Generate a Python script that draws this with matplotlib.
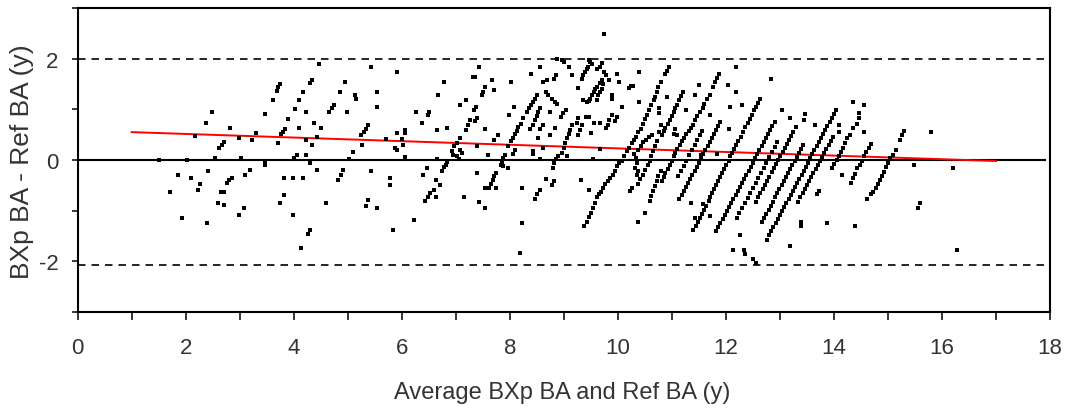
import numpy as np
import matplotlib
matplotlib.use("Agg")
import matplotlib.pyplot as plt

# (average of the two BA estimates, BXp BA - Ref BA)
pts_young = [
    (1.51, 0.00), (1.71, -0.64), (1.86, -0.29), (1.94, -1.15), (2.02, 0.00), (2.10, -0.35),
    (2.18, 0.48), (2.22, -0.60), (2.26, -0.48), (2.38, 0.74), (2.39, -1.24), (2.42, -0.21),
    (2.49, 0.94), (2.54, 0.04), (2.59, -0.84), (2.62, 0.23), (2.65, -0.64), (2.67, 0.30),
    (2.70, 0.35), (2.70, -0.89), (2.71, -0.64), (2.77, -0.45), (2.81, -0.40), (2.82, 0.64),
    (2.85, -0.35), (2.99, 0.44), (2.99, -1.09), (3.02, 0.04), (3.07, -0.94), (3.10, -0.30),
    (3.19, -0.19), (3.23, 0.40), (3.30, 0.54), (3.47, 0.90), (3.47, -0.03), (3.47, -0.10),
    (3.62, 1.19), (3.69, 1.37), (3.70, 0.33), (3.71, 1.44), (3.75, 1.50), (3.75, -0.84),
    (3.76, 0.51), (3.80, 0.56), (3.82, -0.35), (3.82, -0.70), (3.84, 0.62), (3.90, 0.80),
    (3.98, -0.35), (3.98, -1.09), (4.01, 0.04), (4.02, 1.00), (4.06, 0.10), (4.10, 1.19),
    (4.10, 0.64), (4.14, -1.73), (4.18, 1.34), (4.18, -0.35), (4.23, 0.94), (4.23, 0.40),
    (4.23, 0.10), (4.27, -1.46), (4.30, 1.52), (4.30, -0.06), (4.30, -1.38), (4.33, 1.57),
    (4.34, 0.29), (4.38, 0.74), (4.43, 0.46), (4.43, -0.20), (4.47, 1.89), (4.51, 0.64),
    (4.60, -0.84), (4.66, 0.94), (4.70, 1.02), (4.75, 1.09), (4.81, -0.40), (4.86, 1.34),
    (4.87, -0.29), (4.91, -0.19), (4.95, 1.54), (4.98, 0.94), (5.03, 0.02), (5.10, 0.15),
    (5.14, 1.28), (5.15, 1.21),
]

pts_mid = [
    (5.43, 1.83), (5.91, 1.73), (6.78, 1.54), (7.31, 1.63), (5.55, 1.34), (5.55, 1.04),
    (6.67, 1.29), (7.19, 1.19), (7.07, 1.08), (7.33, 0.99), (6.26, 0.94), (6.51, 0.95),
    (6.48, 0.89), (6.38, 0.74), (7.26, 0.79), (7.22, 0.69), (7.19, 0.59), (6.83, 0.64),
    (6.66, 0.59), (5.38, 0.69), (5.34, 0.62), (5.30, 0.56), (5.25, 0.49), (6.06, 0.60),
    (6.06, 0.54), (5.91, 0.54), (6.00, 0.41), (6.03, 0.30), (5.88, 0.23), (5.91, 0.20),
    (5.71, 0.41), (5.26, 0.30), (7.07, 0.44), (7.02, 0.33), (6.97, 0.27), (6.93, 0.17),
    (6.94, 0.10), (7.02, 0.07), (7.05, 0.01), (7.08, 0.20), (7.11, 0.14), (6.06, 0.06),
    (6.66, 0.01), (6.84, -0.03), (6.82, -0.09), (6.78, -0.14), (6.75, -0.21), (5.43, -0.21),
    (6.46, -0.16), (6.39, -0.29), (5.78, -0.35), (5.78, -0.49), (6.63, -0.40), (6.71, -0.49),
    (6.59, -0.60), (6.52, -0.66), (6.48, -0.74), (6.43, -0.81), (6.64, -0.74), (7.15, -0.74),
    (5.38, -0.79), (5.34, -0.90), (5.55, -0.94), (6.23, -1.19), (5.83, -1.38),
    (8.88, 1.99), (8.96, 1.98), (9.01, 1.93), (9.09, 1.83), (9.15, 1.68), (7.42, 1.83),
    (8.55, 1.83), (8.39, 1.69), (7.36, 1.63), (8.86, 1.67), (8.82, 1.60), (7.67, 1.58),
    (8.02, 1.54), (8.68, 1.58), (8.62, 1.54), (7.54, 1.44), (7.51, 1.34), (7.49, 1.28),
    (7.71, 1.39), (8.67, 1.34), (8.70, 1.28), (8.50, 1.29), (8.46, 1.21), (8.43, 1.15),
    (8.39, 1.08), (8.36, 1.02), (8.31, 0.95), (8.78, 1.21), (8.83, 1.15), (8.88, 1.11),
    (8.56, 1.03), (8.53, 0.95), (8.50, 0.87), (8.46, 0.79), (8.42, 0.69), (8.38, 0.62),
    (7.38, 1.05), (7.34, 0.98), (7.39, 0.82), (7.36, 0.76), (8.07, 1.05), (7.99, 0.89),
    (9.04, 0.98), (8.99, 0.92), (8.95, 0.85), (8.75, 0.94), (8.25, 0.83), (8.20, 0.72),
    (8.16, 0.66), (8.13, 0.57), (8.10, 0.51), (8.05, 0.43), (8.02, 0.37), (7.97, 0.27),
    (8.61, 0.69), (8.83, 0.64), (8.55, 0.61), (7.54, 0.61), (7.79, 0.49), (8.75, 0.49),
    (8.52, 0.44), (7.71, 0.40), (9.15, 0.69), (9.12, 0.59), (9.09, 0.51), (9.06, 0.43),
    (9.03, 0.33), (9.00, 0.23), (8.96, 0.14), (7.39, 0.27), (8.09, 0.20), (8.05, 0.12),
    (8.43, 0.18), (8.43, 0.12), (8.62, 0.23), (7.59, 0.10), (7.91, 0.10), (7.88, 0.04),
    (7.85, -0.04), (7.83, -0.10), (7.88, -0.12), (7.96, -0.16), (8.55, 0.01), (8.90, 0.07),
    (8.86, 0.01), (8.82, -0.06), (8.79, -0.16), (9.05, 0.07), (7.39, -0.25), (7.75, -0.25),
    (7.71, -0.32), (7.69, -0.40), (7.65, -0.47), (7.61, -0.55), (7.54, -0.55), (7.75, -0.55),
    (8.67, -0.38), (8.81, -0.42), (8.78, -0.50), (8.22, -0.55), (8.55, -0.60), (8.50, -0.68),
    (8.47, -0.76), (7.42, -0.82), (7.54, -0.95), (8.22, -1.24), (8.19, -1.84),
]

pts_ten = [
    (9.75, 2.48), (9.46, 1.98), (9.49, 1.94), (9.52, 1.89), (9.70, 1.91), (9.66, 1.84),
    (9.62, 1.80), (9.45, 1.84), (9.42, 1.80), (9.39, 1.73), (9.36, 1.67), (9.33, 1.60),
    (9.75, 1.73), (9.78, 1.68), (9.98, 1.70), (10.40, 1.73), (10.03, 1.54), (9.84, 1.58),
    (9.70, 1.58), (9.67, 1.52), (9.61, 1.45), (10.25, 1.47), (10.21, 1.42), (10.28, 1.47),
    (9.27, 1.42), (9.73, 1.50), (9.70, 1.41), (9.67, 1.34), (9.64, 1.28), (9.61, 1.19),
    (9.58, 1.41), (9.55, 1.34), (9.52, 1.28), (9.49, 1.21), (9.46, 1.16), (9.42, 1.15),
    (9.35, 1.19), (9.90, 1.29), (9.90, 1.21),
    (10.94, 1.83), (10.91, 1.76), (10.88, 1.70),
    (10.79, 1.54), (10.75, 1.44), (10.72, 1.34), (10.69, 1.24), (10.66, 1.18), (10.62, 1.08),
    (10.58, 0.98), (10.54, 0.89), (10.51, 0.81), (10.46, 0.72), (10.43, 0.62), (10.38, 0.55),
    (10.34, 0.46), (10.30, 0.40), (10.26, 0.33), (10.21, 0.23), (10.17, 0.17), (10.12, 0.07),
    (10.07, -0.01), (10.03, -0.06), (9.99, -0.12), (9.95, -0.21), (9.91, -0.29), (9.86, -0.35),
    (9.81, -0.42), (9.77, -0.48), (9.73, -0.55), (9.69, -0.63), (9.65, -0.68), (9.62, -0.74),
    (9.58, -0.84), (9.54, -0.94), (9.50, -1.05), (9.46, -1.13), (9.42, -1.23), (9.38, -1.31),
    (10.77, 1.02), (10.77, 0.92), (10.80, 0.69), (10.77, 0.56), (10.57, 0.46), (10.63, 0.49),
    (10.52, 0.40), (10.47, 0.35), (10.43, 0.27), (10.38, 0.20),
    (10.73, 0.37), (10.69, 0.27), (10.65, 0.17), (10.61, 0.07), (10.59, -0.01), (10.55, -0.10),
    (10.51, -0.19), (10.46, -0.29), (10.41, -0.38), (10.38, -0.48),
    (10.30, 0.12), (10.34, 0.03), (10.36, -0.06), (10.32, -0.16), (10.38, -0.22), (10.35, -0.29),
    (10.80, -0.22), (10.75, -0.32), (10.73, -0.42), (10.69, -0.51), (10.65, -0.61), (10.61, -0.71),
    (10.60, -0.81), (10.26, -0.55), (10.22, -0.61), (9.31, -0.40), (9.47, -0.60), (9.50, 0.54),
    (9.56, 0.74), (9.27, 0.83), (9.24, 0.74), (9.33, 0.69), (9.30, 0.59), (9.27, 0.49),
    (9.41, 0.85), (9.47, 0.85), (9.89, 0.89), (9.84, 0.79), (9.81, 0.69), (9.78, 0.64),
    (10.07, 1.05), (9.98, 0.85), (9.94, 0.77), (9.67, 0.74), (10.40, 1.15), (9.67, 0.21),
    (9.54, 0.01), (10.51, -1.04), (10.38, -1.23),
]

pts_eleven = [
    (11.20, 1.34), (11.17, 1.26), (11.14, 1.18), (11.10, 1.09), (11.06, 1.02), (11.03, 0.94),
    (11.00, 0.87), (10.96, 0.79), (10.92, 0.72), (10.88, 0.64), (10.85, 0.57), (10.82, 0.49),
    (11.88, 1.70), (11.84, 1.62), (11.80, 1.54), (11.76, 1.44), (11.70, 1.29), (11.65, 1.20),
    (11.60, 1.11), (11.57, 1.03), (11.52, 0.95), (11.47, 0.87), (11.43, 0.79), (11.39, 0.70),
    (11.35, 0.64), (11.31, 0.57), (11.27, 0.51), (11.23, 0.44), (11.18, 0.38), (11.15, 0.30),
    (11.10, 0.22), (11.06, 0.14), (11.03, 0.07), (11.00, -0.01), (10.96, -0.09), (10.92, -0.17),
    (10.88, -0.25), (10.85, -0.34), (10.82, -0.42),
    (11.90, 0.75), (11.86, 0.67), (11.82, 0.59), (11.78, 0.51), (11.74, 0.43), (11.70, 0.35),
    (11.66, 0.27), (11.62, 0.19), (11.58, 0.11), (11.54, 0.03), (11.50, -0.05), (11.46, -0.13),
    (11.42, -0.21), (11.38, -0.29), (11.34, -0.37), (11.30, -0.45), (11.26, -0.53), (11.22, -0.61),
    (11.18, -0.69), (11.14, -0.77),
    (11.56, 0.57), (11.52, 0.49), (11.47, 0.39), (11.42, 0.29), (11.37, 0.19), (11.32, 0.09),
    (11.27, -0.01), (11.22, -0.11), (11.17, -0.21), (11.12, -0.31),
    (12.64, 1.20), (12.60, 1.12), (12.56, 1.05), (12.52, 0.98), (12.48, 0.89), (12.44, 0.80),
    (12.40, 0.73), (12.36, 0.66), (12.31, 0.56), (12.28, 0.46), (12.23, 0.38), (12.19, 0.30),
    (12.15, 0.22), (12.11, 0.14), (12.08, 0.07), (12.05, -0.01), (12.01, -0.09), (11.97, -0.17),
    (11.92, -0.25), (11.89, -0.34), (11.86, -0.42), (11.82, -0.49), (11.78, -0.58), (11.74, -0.66),
    (11.71, -0.74), (11.68, -0.81), (11.63, -0.90), (11.60, -0.99), (11.55, -1.07), (11.52, -1.15),
    (11.48, -1.23), (11.44, -1.31), (11.40, -1.39),
    (12.19, 1.83), (12.04, 1.48), (12.19, 1.34), (12.08, 1.05), (12.30, 1.08), (12.06, 0.62),
    (11.51, 1.48), (10.91, 1.24), (11.43, 1.29), (11.27, 0.98), (11.71, 0.89), (11.06, 0.62),
    (11.10, 0.49), (11.03, 0.51), (11.53, 0.10), (11.83, 0.12), (11.35, -0.84), (11.57, -0.87),
    (11.71, -1.10), (11.43, -1.15), (12.26, -1.49), (12.14, -1.78), (12.33, -1.78), (12.36, -1.85),
    (12.50, -1.95), (12.55, -2.04),
]

pts_thirteen = [
    (12.90, 0.75), (12.86, 0.67), (12.82, 0.59), (12.78, 0.51), (12.74, 0.43), (12.70, 0.35),
    (12.66, 0.27), (12.62, 0.19), (12.58, 0.11), (12.54, 0.03), (12.50, -0.05), (12.46, -0.13),
    (12.42, -0.21), (12.38, -0.29), (12.34, -0.37), (12.30, -0.45), (12.26, -0.53), (12.22, -0.61),
    (12.18, -0.69), (12.14, -0.77), (12.10, -0.85), (12.06, -0.93), (12.02, -1.01), (11.98, -1.09),
    (11.94, -1.17), (11.90, -1.25), (11.86, -1.33), (11.82, -1.41),
    (12.95, 0.35), (12.90, 0.25), (12.85, 0.15), (12.80, 0.05), (12.75, -0.05), (12.70, -0.15),
    (12.65, -0.25), (12.60, -0.35), (12.55, -0.45), (12.50, -0.55), (12.45, -0.65), (12.40, -0.75),
    (12.35, -0.85), (12.30, -0.95), (12.25, -1.05), (12.20, -1.15),
    (13.30, 0.66), (13.25, 0.56), (13.21, 0.48), (13.17, 0.40), (13.13, 0.32), (13.09, 0.24),
    (13.05, 0.16), (13.01, 0.08), (12.97, 0.00), (12.93, -0.08), (12.89, -0.16), (12.85, -0.24),
    (12.80, -0.34), (12.76, -0.42), (12.72, -0.50), (12.68, -0.58), (12.64, -0.66), (12.60, -0.74),
    (12.56, -0.82),
    (13.43, 0.30), (13.39, 0.22), (13.35, 0.14), (13.31, 0.06), (13.27, -0.02), (13.23, -0.10),
    (13.19, -0.18), (13.15, -0.26), (13.11, -0.34), (13.07, -0.42), (13.03, -0.50), (12.99, -0.58),
    (12.95, -0.66), (12.91, -0.74), (12.87, -0.82), (12.83, -0.90), (12.79, -0.98), (12.75, -1.06),
    (12.71, -1.14), (12.67, -1.22),
    (14.04, 0.99), (14.00, 0.91), (13.96, 0.83), (13.92, 0.75), (13.88, 0.67), (13.84, 0.59),
    (13.80, 0.51), (13.76, 0.43), (13.72, 0.35), (13.68, 0.27), (13.64, 0.19), (13.60, 0.11),
    (13.56, 0.03), (13.52, -0.05), (13.48, -0.13), (13.44, -0.21), (13.40, -0.29), (13.36, -0.37),
    (13.32, -0.45), (13.28, -0.53), (13.24, -0.61), (13.20, -0.69), (13.16, -0.77), (13.12, -0.85),
    (13.08, -0.93), (13.04, -1.01), (13.00, -1.09), (12.96, -1.17), (12.92, -1.25), (12.88, -1.33),
    (12.84, -1.41), (12.80, -1.49), (12.76, -1.57),
    (13.98, 0.46), (13.94, 0.38), (13.90, 0.30), (13.86, 0.22), (13.82, 0.14), (13.78, 0.06),
    (13.74, -0.02), (13.70, -0.10), (13.66, -0.18), (13.62, -0.26), (13.58, -0.34), (13.54, -0.42),
    (13.50, -0.50), (13.46, -0.58), (13.42, -0.66), (13.38, -0.74), (13.34, -0.82),
]

pts_old = [
    (14.55, 1.08), (14.47, 0.92), (14.47, 0.83), (14.43, 0.72), (14.36, 0.64), (14.29, 0.49),
    (14.25, 0.43), (14.21, 0.33), (14.17, 0.23), (14.13, 0.16), (14.09, 0.08), (14.05, 0.00),
    (14.01, -0.08), (13.97, -0.16),
    (14.68, 0.31), (14.64, 0.23), (14.60, 0.15), (14.56, 0.07), (14.52, -0.01), (14.48, -0.09),
    (14.43, -0.16), (14.39, -0.27), (14.35, -0.35), (14.31, -0.45),
    (15.29, 0.57), (15.26, 0.49), (15.23, 0.40), (15.15, 0.20), (15.10, 0.10), (15.04, 0.03),
    (15.01, -0.06), (14.97, -0.14), (14.93, -0.23), (14.89, -0.31), (14.85, -0.40), (14.81, -0.47),
    (14.77, -0.55), (14.72, -0.63), (14.68, -0.68), (14.62, -0.76),
    (12.83, 1.59), (13.04, 0.99), (13.19, 0.83), (13.47, 0.90), (13.44, 0.79), (13.65, 0.69),
    (14.35, 1.15), (14.55, 0.55), (14.10, 0.69), (14.09, 0.56), (15.80, 0.55), (15.48, -0.10),
    (15.59, -0.84), (15.55, -0.95), (16.20, -0.16), (16.28, -1.78), (14.39, -1.30), (14.15, -0.29),
    (13.87, -1.25), (13.39, -1.23), (13.39, -1.31), (13.19, -1.69), (13.72, -0.61), (13.68, -0.68),
]

upper_loa = 2.0
lower_loa = -2.08
trend_x = [1.0, 17.0]
trend_y = [0.55, -0.02]

xticks = list(range(0, 19))
xtick_labels = [str(v) if v % 2 == 0 else "" for v in xticks]
yticks = list(range(-3, 4))
ytick_labels = ["", "-2", "", "0", "", "2", ""]

pts = np.array(pts_young + pts_mid + pts_ten + pts_eleven + pts_thirteen + pts_old)

W, H = 1066, 410
fig = plt.figure(figsize=(W / 100, H / 100), dpi=100)
ax = fig.add_axes([77.7 / W, 1 - 313 / H, (1050 - 77.7) / W, 304 / H])

ax.axhline(upper_loa, color="black", lw=1.2, linestyle=(0, (4.5, 3.6)), zorder=1)
ax.axhline(lower_loa, color="black", lw=1.2, linestyle=(0, (4.5, 3.6)), zorder=1)
ax.plot([0, 17.9], [0, 0], color="black", lw=1.5, zorder=1)
ax.plot(trend_x, trend_y, color="#ff0000", lw=1.4, zorder=2)
ax.scatter(pts[:, 0], pts[:, 1], s=11, marker="s", color="black", linewidths=0, zorder=3)

ax.set_xlim(0, 18)
ax.set_ylim(-3, 3)

tick_font = ["Liberation Sans Narrow", "Liberation Sans"]
ax.set_xticks(xticks)
ax.set_xticklabels(xtick_labels, family=tick_font, fontsize=16, color="#333333")
ax.set_yticks(yticks)
ax.set_yticklabels(ytick_labels, family=tick_font, fontsize=16, color="#333333")
ax.tick_params(axis="x", direction="out", length=5.8, width=1.1, pad=12.5)
ax.tick_params(axis="y", direction="out", length=4.3, width=1.1, pad=9.5)
for sp in ax.spines.values():
    sp.set_linewidth(1.5)

fig.text(562 / W, 1 - 393 / H, "Average BXp BA and Ref BA (y)", ha="center", va="center",
         family="Liberation Sans", fontsize=17, color="#333333")
fig.text(22 / W, 1 - 161.5 / H, "BXp BA - Ref BA (y)", ha="center", va="center", rotation=90,
         family="Liberation Sans", fontsize=19, color="#333333")

fig.savefig("out.png", dpi=100)
